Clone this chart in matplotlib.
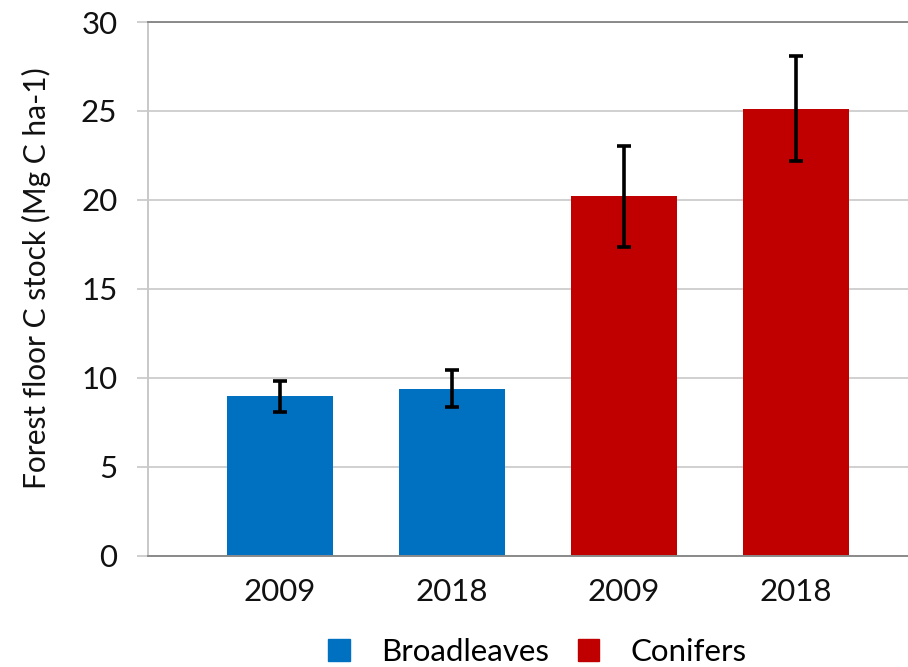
import matplotlib.pyplot as plt
from matplotlib.patches import Patch

# forest floor carbon stocks by forest type and survey year
groups = ['Broadleaves', 'Broadleaves', 'Conifers', 'Conifers']
years = ['2009', '2018', '2009', '2018']
stock = [8.95, 9.37, 20.2, 25.12]
stock_err = [0.87, 1.04, 2.84, 2.95]
group_colors = {'Broadleaves': '#0070C0', 'Conifers': '#C00000'}

plt.rcParams['font.family'] = ['Lato', 'DejaVu Sans']

fig = plt.figure(figsize=(9.08, 6.67), dpi=100)
ax = fig.add_axes([0.163, 0.167, 0.837, 0.8])

x = list(range(len(years)))
ax.bar(x, stock, width=0.616, color=[group_colors[g] for g in groups],
       zorder=2)
ax.errorbar(x, stock, yerr=stock_err, fmt='none', ecolor='black',
            elinewidth=2.6, capsize=5, capthick=2.6, zorder=3)

ax.set_xlim(-0.767, 3.651)
ax.set_ylim(0, 30)
ax.set_yticks(range(0, 31, 5))
ax.set_xticks(x)
ax.set_xticklabels(years)
ax.tick_params(axis='x', length=0, pad=16, labelsize=22.5, colors='#111111')
ax.tick_params(axis='y', length=8, width=1.3, color='#CCCCCC', pad=14,
               labelsize=22.5, labelcolor='#111111')

ax.grid(axis='y', color='#D0D0D0', linewidth=1.4, zorder=0)
ax.set_axisbelow(True)
ax.spines['right'].set_visible(False)
ax.spines['left'].set_color('#C8C8C8')
ax.spines['left'].set_linewidth(1.4)
ax.spines['bottom'].set_color('#8A8A8A')
ax.spines['bottom'].set_linewidth(1.4)
ax.spines['top'].set_color('#8A8A8A')
ax.spines['top'].set_linewidth(1.4)

ax.set_ylabel('Forest floor C stock (Mg C ha-1)', fontsize=21.5,
              color='#111111')
ax.yaxis.set_label_coords(-0.127, 0.52)

handles = [Patch(color=c, label=g) for g, c in group_colors.items()]
fig.legend(handles=handles, loc='center', bbox_to_anchor=(0.592, 0.022),
           ncol=2, frameon=False, fontsize=22.5, handlelength=0.7,
           handleheight=0.7, handletextpad=1.0, columnspacing=0.9)

fig.savefig('out.png', dpi=100)
